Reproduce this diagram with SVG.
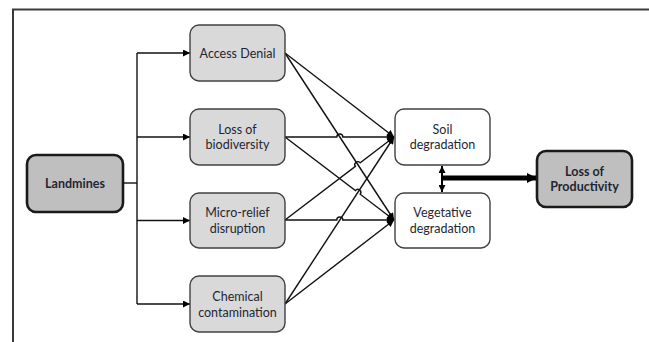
<svg xmlns="http://www.w3.org/2000/svg" width="649" height="342" viewBox="0 0 649 342">
<style>
.box{fill:#d9d9d9;stroke:#404040;stroke-width:1.4}
.wbox{fill:#ffffff;stroke:#404040;stroke-width:1.4}
.dbox{fill:#bfbfbf;stroke:#1a1a1a;stroke-width:2.6}
.t{font-family:Lato,"Liberation Sans",sans-serif;font-size:12.5px;fill:#1f2633;text-anchor:middle}
.b{font-weight:bold}
.ln{fill:none;stroke:#111;stroke-width:1.4}
</style>
<defs>
<marker id="ah" viewBox="0 0 10 10" refX="10" refY="5" markerWidth="8" markerHeight="7" markerUnits="userSpaceOnUse" orient="auto"><path d="M0,0L10,5L0,10z" fill="#000"/></marker>
<marker id="ah2" viewBox="0 0 10 10" refX="10" refY="5" markerWidth="7" markerHeight="7" markerUnits="userSpaceOnUse" orient="auto-start-reverse"><path d="M0,0L10,5L0,10z" fill="#000"/></marker>
<marker id="ahb" viewBox="0 0 10 10" refX="10" refY="5" markerWidth="10" markerHeight="11" markerUnits="userSpaceOnUse" orient="auto"><path d="M0,0L10,5L0,10z" fill="#000"/></marker>
</defs>
<path d="M12,9.5H649M13,9.5V342" fill="none" stroke="#3a3a3a" stroke-width="2"/>
<g id="connectors">
<path class="ln" d="M123,183H137"/>
<path class="ln" d="M137,53V304"/>
<path class="ln" d="M137,53H190" marker-end="url(#ah)"/>
<path class="ln" d="M137,137H190" marker-end="url(#ah)"/>
<path class="ln" d="M137,220.5H190" marker-end="url(#ah)"/>
<path class="ln" d="M137,304H190" marker-end="url(#ah)"/>
<path class="ln" d="M285,53L394,137" marker-end="url(#ah)"/>
<path class="ln" d="M285,53L394,220" marker-end="url(#ah)"/>
<path class="ln" d="M285,137H336.8A3,3 0 0 1 342.8,137H394" marker-end="url(#ah)"/>
<path class="ln" d="M285,137L355.41,190.58A3,3 0 0 1 360.19,194.22L394,220" marker-end="url(#ah)"/>
<path class="ln" d="M285,220L355.41,166.42A3,3 0 0 1 360.19,162.78L394,137" marker-end="url(#ah)"/>
<path class="ln" d="M285,220H336.8A3,3 0 0 1 342.8,220H394" marker-end="url(#ah)"/>
<path class="ln" d="M285,304L394,137" marker-end="url(#ah)"/>
<path class="ln" d="M285,304L394,220" marker-end="url(#ah)"/>
<path d="M442,166V192" fill="none" stroke="#000" stroke-width="2" marker-start="url(#ah2)" marker-end="url(#ah2)"/>
<path d="M441,178H537" fill="none" stroke="#000" stroke-width="5" marker-end="url(#ahb)"/>
</g>
<g id="landmines"><rect class="dbox" x="27" y="155" width="96" height="57" rx="9"/><text class="t b" x="75" y="187.5">Landmines</text></g>
<g id="access-denial"><rect class="box" x="190" y="25" width="95" height="56" rx="9"/><text class="t" x="237.5" y="57.5">Access Denial</text></g>
<g id="loss-biodiversity"><rect class="box" x="190" y="109" width="95" height="56" rx="9"/><text class="t" x="237.5" y="133.5">Loss of</text><text class="t" x="237.5" y="149">biodiversity</text></g>
<g id="micro-relief"><rect class="box" x="190" y="193" width="95" height="55" rx="9"/><text class="t" x="237.5" y="217">Micro-relief</text><text class="t" x="237.5" y="232.5">disruption</text></g>
<g id="chemical"><rect class="box" x="190" y="276" width="95" height="56" rx="9"/><text class="t" x="237.5" y="301">Chemical</text><text class="t" x="237.5" y="317">contamination</text></g>
<g id="soil"><rect class="wbox" x="395" y="109" width="95" height="56" rx="9"/><text class="t" x="442.5" y="133.5">Soil</text><text class="t" x="442.5" y="149">degradation</text></g>
<g id="vegetative"><rect class="wbox" x="395" y="193" width="95" height="55" rx="9"/><text class="t" x="442.5" y="217">Vegetative</text><text class="t" x="442.5" y="232.5">degradation</text></g>
<g id="loss-productivity"><rect class="dbox" x="537" y="151" width="95" height="56" rx="9"/><text class="t b" x="584.5" y="175.5">Loss of</text><text class="t b" x="584.5" y="191">Productivity</text></g>
</svg>
